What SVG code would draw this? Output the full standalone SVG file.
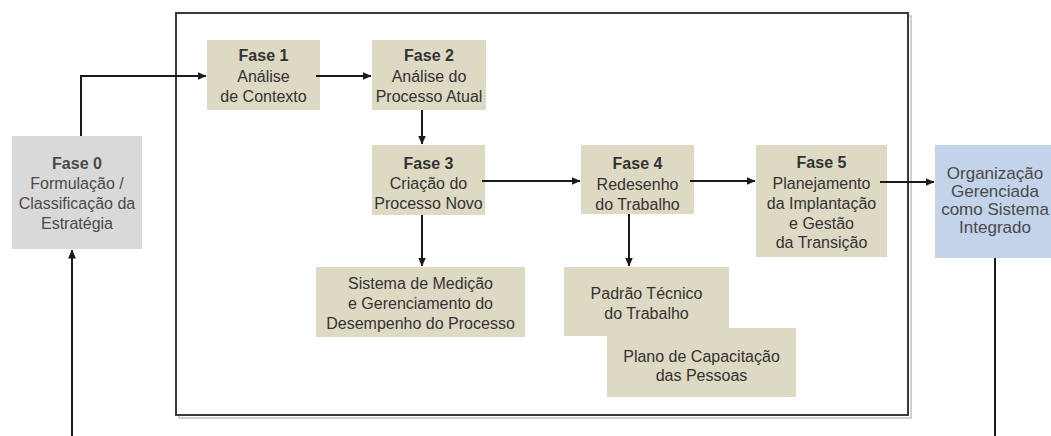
<svg xmlns="http://www.w3.org/2000/svg" width="1051" height="436" viewBox="0 0 1051 436">
<style>
  text { font-family: "Liberation Sans", Arial, sans-serif; font-size: 16px; text-anchor: middle; fill: #333333; }
  .b { font-weight: bold; }
  .tan { fill: #DDD9C3; }
  .grey { fill: #D9D9D9; }
  .blue { fill: #C2D3EA; }
  .conn { stroke: #1a1a1a; stroke-width: 2; fill: none; }
  .soft { fill: #4a4a4a; }
  .big { font-size: 17px; }
</style>
<defs>
  <marker id="arr" markerUnits="userSpaceOnUse" markerWidth="9" markerHeight="8" refX="8.5" refY="4" orient="auto">
    <path d="M0,0 L9,4 L0,8 z" fill="#1a1a1a"/>
  </marker>
</defs>
<rect width="1051" height="436" fill="#ffffff"/>

<!-- frame -->
<g id="frame">
  <rect x="179" y="16" width="732" height="402" fill="none" stroke="#d0d0d0" stroke-width="2"/>
  <rect x="176" y="13" width="732" height="402" fill="#ffffff" stroke="#3a3a3a" stroke-width="2"/>
</g>

<g id="fase0">
  <rect class="grey" x="12" y="136" width="130" height="113"/>
  <text class="b soft" x="77" y="169">Fase 0</text>
  <text class="soft" x="77" y="189">Formulação /</text>
  <text class="soft" x="77" y="209">Classificação da</text>
  <text class="soft" x="77" y="229">Estratégia</text>
</g>

<g id="fase1">
  <rect class="tan" x="207" y="40" width="113" height="70"/>
  <text class="b" x="263.5" y="61">Fase 1</text>
  <text x="263.5" y="82">Análise</text>
  <text x="263.5" y="102">de Contexto</text>
</g>

<g id="fase2">
  <rect class="tan" x="372" y="40" width="114" height="70"/>
  <text class="b" x="429" y="61">Fase 2</text>
  <text x="429" y="82">Análise do</text>
  <text x="429" y="102">Processo Atual</text>
</g>

<g id="fase3">
  <rect class="tan" x="372" y="145" width="113" height="70"/>
  <text class="b" x="428.5" y="169">Fase 3</text>
  <text x="428.5" y="189">Criação do</text>
  <text x="428.5" y="209">Processo Novo</text>
</g>

<g id="fase4">
  <rect class="tan" x="581" y="145" width="113" height="69"/>
  <text class="b" x="637.5" y="169">Fase 4</text>
  <text x="637.5" y="190">Redesenho</text>
  <text x="637.5" y="210">do Trabalho</text>
</g>

<g id="fase5">
  <rect class="tan" x="756" y="145" width="131" height="112"/>
  <text class="b" x="821.5" y="168">Fase 5</text>
  <text x="821.5" y="189">Planejamento</text>
  <text x="821.5" y="209">da Implantação</text>
  <text x="821.5" y="229">e Gestão</text>
  <text x="821.5" y="248">da Transição</text>
</g>

<g id="organizacao">
  <rect class="blue" x="935" y="145" width="120" height="113"/>
  <text class="soft big" x="995" y="179">Organização</text>
  <text class="soft big" x="995" y="197">Gerenciada</text>
  <text class="soft big" x="995" y="215">como Sistema</text>
  <text class="soft big" x="995" y="233">Integrado</text>
</g>

<g id="sistema">
  <rect class="tan" x="316" y="267" width="209" height="70"/>
  <text x="420.5" y="289">Sistema de Medição</text>
  <text x="420.5" y="309">e Gerenciamento do</text>
  <text x="420.5" y="329">Desempenho do Processo</text>
</g>

<g id="padrao">
  <rect class="tan" x="564" y="267" width="165" height="69"/>
  <text x="646.5" y="299">Padrão Técnico</text>
  <text x="646.5" y="319">do Trabalho</text>
</g>

<g id="plano">
  <rect class="tan" x="607" y="328" width="189" height="69"/>
  <text x="701.5" y="362">Plano de Capacitação</text>
  <text x="701.5" y="381">das Pessoas</text>
</g>

<g id="connectors">
  <path class="conn" d="M72,436 L72,250" marker-end="url(#arr)"/>
  <path class="conn" d="M81,136 L81,76 L206,76" marker-end="url(#arr)"/>
  <path class="conn" d="M316,76 L371,76" marker-end="url(#arr)"/>
  <path class="conn" d="M422,110 L422,144" marker-end="url(#arr)"/>
  <path class="conn" d="M422,215 L422,266" marker-end="url(#arr)"/>
  <path class="conn" d="M482,181 L580,181" marker-end="url(#arr)"/>
  <path class="conn" d="M629,214 L629,266" marker-end="url(#arr)"/>
  <path class="conn" d="M690,181 L755,181" marker-end="url(#arr)"/>
  <path class="conn" d="M880,182 L934,182" marker-end="url(#arr)"/>
  <path class="conn" d="M995,258 L995,436"/>
</g>
</svg>
